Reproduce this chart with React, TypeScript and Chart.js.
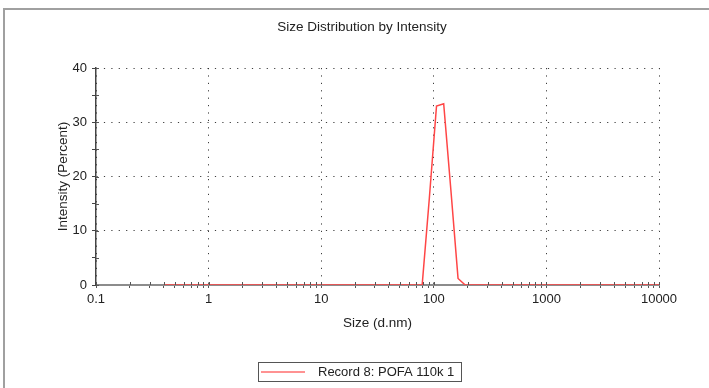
import React, { useEffect, useRef } from 'react';
import { Chart, registerables } from 'chart.js';

Chart.register(...registerables);

const TITLE = 'Size Distribution by Intensity';
const X_LABEL = 'Size (d.nm)';
const Y_LABEL = 'Intensity (Percent)';
const SERIES_LABEL = 'Record 8: POFA 110k 1';

// size classes (d.nm)
const SIZES = [
  0.4, 0.4632, 0.5365, 0.6213, 0.7195, 0.8332, 0.9649, 1.117, 1.294, 1.499,
  1.736, 2.01, 2.328, 2.696, 3.122, 3.615, 4.187, 4.849, 5.615, 6.503,
  7.531, 8.721, 10.1, 11.7, 13.54, 15.69, 18.17, 21.04, 24.36, 28.21,
  32.67, 37.84, 43.82, 50.75, 58.77, 68.06, 78.82, 91.28, 105.7, 122.4,
  141.8, 164.2, 190.1, 220.2, 255.0, 295.3, 342.0, 396.1, 458.7, 531.2,
  615.1, 712.4, 825.0, 955.4, 1106, 1281, 1484, 1718, 1990, 2305,
  2669, 3091, 3580, 4145, 4801, 5560, 6439, 7456, 8635, 10000,
];
// intensity (%)
const INTENSITY = [
  0, 0, 0, 0, 0, 0, 0, 0, 0, 0,
  0, 0, 0, 0, 0, 0, 0, 0, 0, 0,
  0, 0, 0, 0, 0, 0, 0, 0, 0, 0,
  0, 0, 0, 0, 0, 0, 0, 16.0, 33.0, 33.4,
  17.5, 1.2, 0, 0, 0, 0, 0, 0, 0, 0,
  0, 0, 0, 0, 0, 0, 0, 0, 0, 0,
  0, 0, 0, 0, 0, 0, 0, 0, 0, 0,
];

const X_MAJOR_TICKS = [0.1, 1, 10, 100, 1000, 10000];
const X_TICK_LABELS = ['0.1', '1', '10', '100', '1000', '10000'];
const X_MINOR_MULTIPLIERS = [2, 3, 4, 5, 6, 7, 8, 9];
const Y_MAJOR_TICKS = [0, 10, 20, 30, 40];
const Y_TICK_LABELS = ['0', '10', '20', '30', '40'];
const Y_MINOR_TICKS = [5, 15, 25, 35];

const FONT_FAMILY = '"Liberation Sans", Arial, Helvetica, sans-serif';
const TEXT_COLOR = '#222';
const LINE_COLOR = 'rgb(255, 70, 70)';

const overlayPlugin = {
  id: 'overlayText',
  afterDatasetsDraw(chart: any) {
    // inner halves of the tick marks (ticks cross the axes)
    const ctx = chart.ctx;
    const xs = chart.scales.x;
    const ys = chart.scales.y;
    const area = chart.chartArea;
    ctx.save();
    ctx.strokeStyle = '#555';
    ctx.lineWidth = 1;
    ctx.beginPath();
    xs.ticks.forEach((t: any) => {
      const px = Math.round(xs.getPixelForValue(t.value)) + 0.5;
      ctx.moveTo(px, area.bottom - 3);
      ctx.lineTo(px, area.bottom);
    });
    ys.ticks.forEach((t: any) => {
      const py = Math.round(ys.getPixelForValue(t.value)) + 0.5;
      ctx.moveTo(area.left, py);
      ctx.lineTo(area.left + 3, py);
    });
    ctx.stroke();
    ctx.restore();
  },
  afterDraw(chart: any) {
    const ctx = chart.ctx;
    ctx.save();
    // title
    ctx.fillStyle = TEXT_COLOR;
    ctx.font = `13.5px ${FONT_FAMILY}`;
    ctx.textAlign = 'center';
    ctx.textBaseline = 'middle';
    ctx.fillText(TITLE, 362, 27);
    // legend box
    ctx.strokeStyle = '#555';
    ctx.lineWidth = 1;
    ctx.strokeRect(258.5, 362.5, 203, 19);
    ctx.strokeStyle = 'rgb(255, 110, 110)';
    ctx.lineWidth = 1.5;
    ctx.beginPath();
    ctx.moveTo(261, 372);
    ctx.lineTo(305, 372);
    ctx.stroke();
    ctx.fillStyle = TEXT_COLOR;
    ctx.textAlign = 'left';
    ctx.font = `13px ${FONT_FAMILY}`;
    ctx.fillText(chart.data.datasets[0].label, 318, 372.5);
    ctx.restore();
  },
};

export default function App() {
  const canvasRef = useRef<HTMLCanvasElement | null>(null);

  useEffect(() => {
    if (!canvasRef.current) return;
    const points = SIZES.map((s, i) => ({ x: s, y: INTENSITY[i] }));
    const chart = new Chart(canvasRef.current, {
      type: 'line',
      data: {
        datasets: [
          {
            label: SERIES_LABEL,
            data: points,
            borderColor: LINE_COLOR,
            backgroundColor: LINE_COLOR,
            borderWidth: 1.5,
            pointRadius: 0,
            tension: 0,
            fill: false,
          },
        ],
      },
      options: {
        animation: false,
        responsive: false,
        maintainAspectRatio: false,
        layout: { padding: { left: 0, right: 50, top: 68, bottom: 53 } },
        plugins: {
          legend: { display: false },
          title: { display: false },
          tooltip: { enabled: false },
        },
        scales: {
          x: {
            type: 'logarithmic',
            min: 0.1,
            max: 10000,
            afterBuildTicks: (scale: any) => {
              const ticks: any[] = [];
              X_MAJOR_TICKS.forEach((v, i) => {
                ticks.push({ value: v, major: false });
                if (i < X_MAJOR_TICKS.length - 1) {
                  X_MINOR_MULTIPLIERS.forEach((m) =>
                    ticks.push({ value: +(v * m).toPrecision(6), major: false })
                  );
                }
              });
              scale.ticks = ticks;
            },
            afterFit: (scale: any) => {
              scale.height = 50;
            },
            ticks: {
              autoSkip: false,
              maxRotation: 0,
              minRotation: 0,
              padding: 4,
              color: TEXT_COLOR,
              font: { family: FONT_FAMILY, size: 13 },
              callback: (value: any) => {
                const i = X_MAJOR_TICKS.indexOf(Number(value));
                return i >= 0 ? X_TICK_LABELS[i] : '';
              },
            },
            grid: {
              display: true,
              drawOnChartArea: true,
              drawTicks: true,
              tickLength: 3,
              tickWidth: 1,
              tickColor: '#555',
              lineWidth: 1,
              color: (c: any) =>
                c.tick && X_MAJOR_TICKS.indexOf(c.tick.value) >= 0
                  ? 'rgba(40,40,40,0.9)'
                  : 'rgba(0,0,0,0)',
            },
            border: { display: true, color: '#8c8c8c', width: 2, dash: [1.2, 6.2] },
            title: {
              display: true,
              text: X_LABEL,
              color: TEXT_COLOR,
              font: { family: FONT_FAMILY, size: 13.5 },
              padding: { top: 0, bottom: 4 },
            },
          },
          y: {
            type: 'linear',
            min: 0,
            max: 40,
            afterBuildTicks: (scale: any) => {
              const ticks: any[] = [];
              Y_MAJOR_TICKS.forEach((v) => ticks.push({ value: v }));
              Y_MINOR_TICKS.forEach((v) => ticks.push({ value: v }));
              ticks.sort((a, b) => a.value - b.value);
              scale.ticks = ticks;
            },
            afterFit: (scale: any) => {
              scale.width = 96;
            },
            ticks: {
              autoSkip: false,
              padding: 5,
              color: TEXT_COLOR,
              font: { family: FONT_FAMILY, size: 13 },
              callback: (value: any) => {
                const i = Y_MAJOR_TICKS.indexOf(Number(value));
                return i >= 0 ? Y_TICK_LABELS[i] : '';
              },
            },
            grid: {
              display: true,
              drawOnChartArea: true,
              drawTicks: true,
              tickLength: 4,
              tickWidth: 1,
              tickColor: '#444',
              lineWidth: 1,
              color: (c: any) =>
                c.tick && Y_MAJOR_TICKS.indexOf(c.tick.value) > 0
                  ? 'rgba(40,40,40,0.9)'
                  : 'rgba(0,0,0,0)',
            },
            border: { display: true, color: '#444', width: 1.5, dash: [1.2, 6.2] },
            title: {
              display: true,
              text: Y_LABEL,
              color: TEXT_COLOR,
              font: { family: FONT_FAMILY, size: 13.5 },
              padding: { top: 55, bottom: 0 },
            },
          },
        },
      },
      plugins: [overlayPlugin],
    });
    return () => chart.destroy();
  }, []);

  return (
    <div style={{ position: 'absolute', left: 0, top: 0, width: 709, height: 388, background: '#fff' }}>
      <div
        style={{
          position: 'absolute',
          left: 3,
          top: 8,
          width: 706,
          height: 380,
          boxSizing: 'border-box',
          borderTop: '2px solid #a0a0a0',
          borderLeft: '2px solid #a0a0a0',
        }}
      />
      <canvas
        ref={canvasRef}
        width={709}
        height={388}
        style={{ position: 'absolute', left: 0, top: 0, width: 709, height: 388 }}
      />
    </div>
  );
}
